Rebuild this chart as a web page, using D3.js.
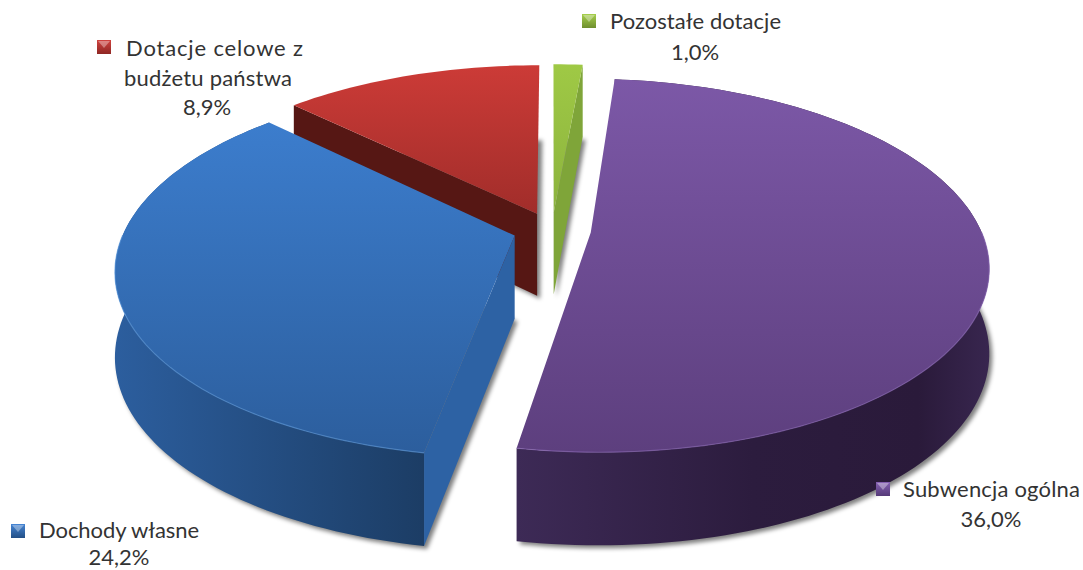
<!DOCTYPE html>
<html>
<head>
<meta charset="utf-8">
<script src="https://cdn.jsdelivr.net/npm/d3@7"></script>
<style>
  html, body { margin: 0; padding: 0; background: #fff; overflow: hidden; }
  text { font-family: Lato, "Open Sans", sans-serif; font-size: 22px; fill: #333; }
</style>
</head>
<body>
<div id="chart"></div>
<script>
// share of income, clockwise from 12 o'clock
var categories = ["Pozostałe dotacje", "Subwencja ogólna", "Dochody własne", "Dotacje celowe z budżetu państwa"];
var values = [1.0, 36.0, 24.2, 8.9];

var svgWidth = 1083;
var svgHeight = 570;

// per slice look, same order as categories
var topColors = [["#9fc945", "#8cb33e"], ["#7c58a7", "#5d3f7e"], ["#3c7dcd", "#2c5e9d"], ["#cc3b37", "#a12d2a"]];
var sideColors = [["#7fa539", "#7fa539"], ["#2c1c3e", "#3d2a56"], ["#2c5e9e", "#1c3d65"], ["#561714", "#561714"]];
var keyColors = [["#a6cf4c", "#6f8f2f"], ["#8560b2", "#553a78"], ["#4585d4", "#234f86"], ["#d0433f", "#8f2724"]];

// [x, baseline, anchor, width]
var labelPos = [
  {key: [582, 14], lines: [[610, 29, "start", 171], [695, 60, "middle"]]},
  {key: [876, 482], lines: [[903, 497, "start", 177], [991, 527, "middle"]]},
  {key: [11, 524], lines: [[39, 538, "start", 160], [119, 565, "middle"]]},
  {key: [97, 40], lines: [[126, 56, "start", 177], [124, 86, "start", 168], [207, 115, "middle"]]}
];

var svg = d3.select("#chart")
  .append("svg")
  .attr("width", svgWidth)
  .attr("height", svgHeight)
  .style("display", "block");

var defs = svg.append("defs");

var blur = defs.append("filter").attr("id", "shadow")
  .attr("x", "-10%").attr("y", "-10%").attr("width", "120%").attr("height", "120%");
blur.append("feGaussianBlur").attr("stdDeviation", 2);

function addGradient(id, colors, horizontal) {
  var g = defs.append("linearGradient").attr("id", id)
    .attr("x1", 0).attr("y1", 0)
    .attr("x2", horizontal ? 1 : 0).attr("y2", horizontal ? 0 : 1);
  g.append("stop").attr("offset", "0%").attr("stop-color", colors[0]);
  g.append("stop").attr("offset", "100%").attr("stop-color", colors[1]);
}

categories.forEach(function (c, i) {
  addGradient("top" + i, topColors[i], false);
  addGradient("side" + i, sideColors[i], true);
  addGradient("key" + i, keyColors[i], false);
});

// purple side runs dark to the right edge, lighter at the cut
d3.select("#side1").selectAll("stop").remove();
d3.select("#side1").selectAll("stop")
  .data([[0, "#3d2a56"], [0.5, "#2c1c3e"], [0.85, "#2a1a3a"], [1, "#38264f"]])
  .enter().append("stop")
  .attr("offset", function (d) { return d[0]; })
  .attr("stop-color", function (d) { return d[1]; });

// pie plane to screen, with the perspective of the tilted disc
var cx = 552;
var cy = 230;
var scaleX = 390;
var scaleY = 180;
var persp = 0.177;
var explode = 0.1;

function project(px, py, lower) {
  var w = 1 + persp * py;
  var depth = lower ? 83 - 10 * py : 0;
  return [cx + scaleX * px / w, cy - scaleY * py / w + depth];
}

var pie = d3.pie().sort(null).value(function (d) { return d; });
var arcs = pie(values);

var line = d3.line();

function slicePoint(d, angle, r, lower) {
  var mid = (d.startAngle + d.endAngle) / 2;
  var px = r * Math.sin(angle) + explode * Math.sin(mid);
  var py = r * Math.cos(angle) + explode * Math.cos(mid);
  return project(px, py, lower);
}

function rimPoints(d, from, to, lower) {
  var n = Math.max(2, Math.ceil(Math.abs(to - from) * 40));
  return d3.range(n + 1).map(function (k) {
    return slicePoint(d, from + (to - from) * k / n, 1, lower);
  });
}

function facePath(d, lower) {
  return line([slicePoint(d, 0, 0, lower)].concat(rimPoints(d, d.startAngle, d.endAngle, lower))) + "Z";
}

function sidePath(d) {
  var top = rimPoints(d, d.startAngle, d.endAngle, false);
  var bottom = rimPoints(d, d.endAngle, d.startAngle, true);
  return line(top.concat(bottom)) + "Z";
}

// cut face hanging under one straight edge of a slice
function cutPath(d, angle) {
  return line([
    slicePoint(d, 0, 0, false),
    slicePoint(d, angle, 1, false),
    slicePoint(d, angle, 1, true),
    slicePoint(d, 0, 0, true)
  ]) + "Z";
}

var drawOrder = [3, 0, 1, 2];

drawOrder.forEach(function (i) {
  var d = arcs[i];
  var g = svg.append("g");

  g.append("path")
    .attr("d", facePath(d, true))
    .attr("transform", "translate(3,3)")
    .attr("fill", "#000")
    .attr("fill-opacity", 0.5)
    .attr("filter", "url(#shadow)");

  if (i === 1 || i === 2) {
    g.append("path").attr("d", sidePath(d)).attr("fill", "url(#side" + i + ")");
  }
  if (i === 0) {
    g.append("path").attr("d", cutPath(d, d.endAngle)).attr("fill", sideColors[0][0]);
  }
  if (i === 2) {
    g.append("path").attr("d", cutPath(d, d.startAngle)).attr("fill", "#2d62a4");
  }
  if (i === 3) {
    g.append("path").attr("d", cutPath(d, d.startAngle)).attr("fill", sideColors[3][0]);
  }

  g.append("path").attr("d", facePath(d, false)).attr("fill", "url(#top" + i + ")");

  // thin light bevel on the front rim
  if (i === 1 || i === 2) {
    g.append("path")
      .attr("d", line(rimPoints(d, Math.max(d.startAngle, Math.PI / 2), Math.min(d.endAngle, Math.PI * 1.5), false)))
      .attr("fill", "none")
      .attr("stroke", i === 2 ? "#5a97dc" : "#8a68b5")
      .attr("stroke-opacity", 0.6)
      .attr("stroke-width", 1.2);
  }
});

function percent(v) {
  return v.toFixed(1).replace(".", ",") + "%";
}

// legend keys and labels
categories.forEach(function (c, i) {
  var pos = labelPos[i];
  var g = svg.append("g").attr("class", "label");
  var x = pos.key[0];
  var y = pos.key[1];
  var size = 14;

  g.append("rect")
    .attr("x", x).attr("y", y)
    .attr("width", size).attr("height", size)
    .attr("fill", "url(#key" + i + ")");
  g.append("path")
    .attr("d", line([[x + 1, y + 1], [x + size - 1, y + 1], [x + size / 2, y + size / 2 + 1]]) + "Z")
    .attr("fill", "#fff")
    .attr("fill-opacity", 0.35);

  var texts = i === 3 ? ["Dotacje celowe z", "budżetu państwa", percent(values[i])] : [c, percent(values[i])];
  texts.forEach(function (t, k) {
    var p = pos.lines[k];
    var label = g.append("text")
      .attr("x", p[0])
      .attr("y", p[1])
      .attr("text-anchor", p[2])
      .text(t);
    if (p[3]) label.attr("textLength", p[3]);
  });
});
</script>
</body>
</html>
